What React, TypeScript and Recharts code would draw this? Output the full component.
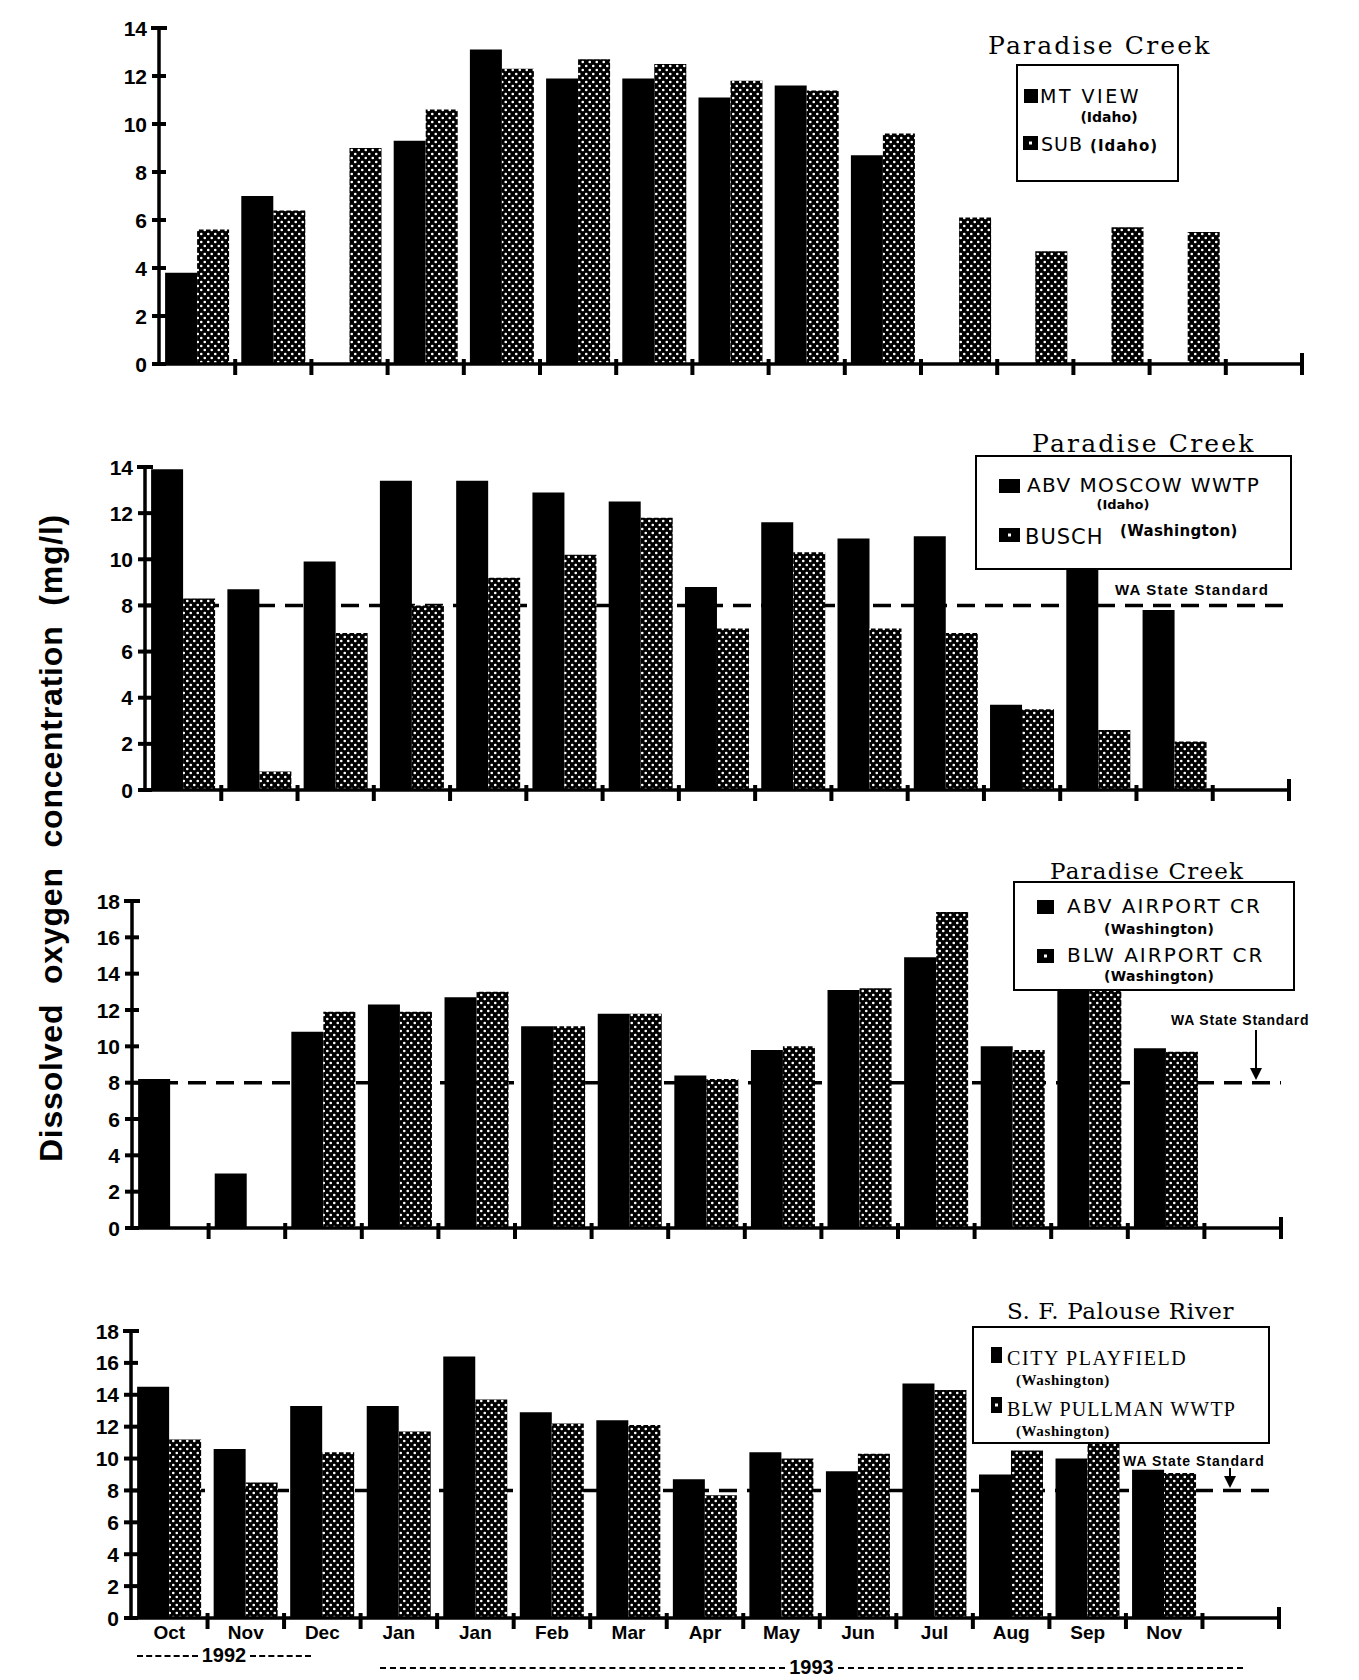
import React from 'react';
import { BarChart, Bar, XAxis, YAxis, ReferenceLine } from 'recharts';

// ---------- data ----------
const months = ['Oct', 'Nov', 'Dec', 'Jan', 'Jan', 'Feb', 'Mar', 'Apr', 'May', 'Jun', 'Jul', 'Aug', 'Sep', 'Nov', ''];

// Panel 1: Paradise Creek (Idaho)
const mtView = [3.8, 7.0, null, 9.3, 13.1, 11.9, 11.9, 11.1, 11.6, 8.7, null, null, null, null, null];
const sub = [5.6, 6.4, 9.0, 10.6, 12.3, 12.7, 12.5, 11.8, 11.4, 9.6, 6.1, 4.7, 5.7, 5.5, null];

// Panel 2: Paradise Creek
const abvMoscow = [13.9, 8.7, 9.9, 13.4, 13.4, 12.9, 12.5, 8.8, 11.6, 10.9, 11.0, 3.7, 10.2, 7.8, null];
const busch = [8.3, 0.8, 6.8, 8.0, 9.2, 10.2, 11.8, 7.0, 10.3, 7.0, 6.8, 3.5, 2.6, 2.1, null];

// Panel 3: Paradise Creek (Washington)
const abvAirport = [8.2, 3.0, 10.8, 12.3, 12.7, 11.1, 11.8, 8.4, 9.8, 13.1, 14.9, 10.0, 13.3, 9.9, null];
const blwAirport = [null, null, 11.9, 11.9, 13.0, 11.1, 11.8, 8.2, 10.0, 13.2, 17.4, 9.8, 13.6, 9.7, null];

// Panel 4: S. F. Palouse River
const cityPlayfield = [14.5, 10.6, 13.3, 13.3, 16.4, 12.9, 12.4, 8.7, 10.4, 9.2, 14.7, 9.0, 10.0, 9.3, null];
const blwPullman = [11.2, 8.5, 10.4, 11.7, 13.7, 12.2, 12.1, 7.7, 10.0, 10.3, 14.3, 10.5, 11.1, 9.1, null];

const ticks14 = [0, 2, 4, 6, 8, 10, 12, 14];
const ticks18 = [0, 2, 4, 6, 8, 10, 12, 14, 16, 18];
const waStandard = 8;

// ---------- layout ----------
const W = 1359;
const TOPPAD = 16;
const NUM_FONT = "'Liberation Sans Narrow', 'Liberation Sans', Arial, sans-serif";

type PanelCfg = {
  left: number; right: number; yTop: number; y0: number; yMax: number;
  ticks: number[]; a: (number | null)[]; b: (number | null)[]; ref: boolean; labels: boolean;
};

const panels: PanelCfg[] = [
  { left: 159, right: 1302, yTop: 28, y0: 364, yMax: 14, ticks: ticks14, a: mtView, b: sub, ref: false, labels: false },
  { left: 145, right: 1289, yTop: 467, y0: 790, yMax: 14, ticks: ticks14, a: abvMoscow, b: busch, ref: true, labels: false },
  { left: 132, right: 1281, yTop: 901, y0: 1228, yMax: 18, ticks: ticks18, a: abvAirport, b: blwAirport, ref: true, labels: false },
  { left: 131, right: 1279, yTop: 1331, y0: 1618, yMax: 18, ticks: ticks18, a: cityPlayfield, b: blwPullman, ref: true, labels: true },
];

function PanelChart({ p }: { p: PanelCfg }) {
  const svgTop = p.yTop - TOPPAD;
  const xAxisH = p.labels ? 40 : 24;
  const H = p.y0 - svgTop + xAxisH + 4;
  const slot = (p.right - p.left) / months.length;
  const y0local = p.y0 - svgTop;
  const data = months.map((m, i) => ({ i, a: p.a[i], b: p.b[i] }));
  const margin = { top: TOPPAD, right: W - p.right, bottom: 4, left: p.left - 60 };

  const renderYTick = (props: any) => {
    const { y, payload } = props;
    const top = payload.value === p.yMax;
    return (
      <g>
        <line x1={p.left - (top ? 8 : 7)} x2={p.left + (top ? 8 : 7)} y1={y} y2={y} stroke="#000" strokeWidth={4} />
        <text x={p.left - 12} y={y} dy="0.36em" textAnchor="end" fontFamily={NUM_FONT} fontWeight="bold" fontSize={21} fill="#000">
          {payload.value}
        </text>
      </g>
    );
  };

  const renderXTick = (props: any) => {
    const { x, payload } = props;
    const i = props.index !== undefined ? props.index : payload.index;
    const bx = x + slot / 2;
    const last = i === months.length - 1;
    return (
      <g>
        <line x1={bx} x2={bx} y1={y0local - (last ? 11 : 5)} y2={y0local + 11} stroke="#000" strokeWidth={4} />
        {p.labels && months[i] ? (
          <text x={x} y={y0local + 21} textAnchor="middle" fontFamily={NUM_FONT} fontWeight="bold" fontSize={19} fill="#000">
            {months[i]}
          </text>
        ) : null}
      </g>
    );
  };

  return (
    <>
      {p.ref ? (
        <div style={{ position: 'absolute', left: 0, top: svgTop }}>
          <BarChart width={W} height={H} data={data} margin={margin} barCategoryGap="8%" barGap={0}>
            <YAxis width={60} type="number" domain={[0, p.yMax]} ticks={p.ticks} allowDataOverflow tick={false} tickLine={false} axisLine={false} />
            <XAxis dataKey="i" type="category" height={xAxisH} tick={false} tickLine={false} axisLine={false} />
            <Bar dataKey="a" fill="transparent" isAnimationActive={false} />
            <ReferenceLine y={waStandard} stroke="#000" strokeWidth={3.5} strokeDasharray="18 10" ifOverflow="extendDomain" />
          </BarChart>
        </div>
      ) : null}
      <div style={{ position: 'absolute', left: 0, top: svgTop }}>
        <BarChart width={W} height={H} data={data} margin={margin} barCategoryGap="8%" barGap={0}>
          <YAxis
            width={60}
            type="number"
            domain={[0, p.yMax]}
            ticks={p.ticks}
            interval={0}
            allowDataOverflow
            tickLine={false}
            axisLine={{ stroke: '#000', strokeWidth: 3.5 }}
            tick={renderYTick}
          />
          <XAxis
            dataKey="i"
            type="category"
            height={xAxisH}
            interval={0}
            tickLine={false}
            axisLine={{ stroke: '#000', strokeWidth: 3.5 }}
            tick={renderXTick}
          />
          <Bar dataKey="a" fill="#000" isAnimationActive={false} />
          <Bar dataKey="b" fill="url(#dots)" isAnimationActive={false} />
        </BarChart>
      </div>
    </>
  );
}

const T = ({ left, cy, size, children, family, weight, ls, center }: any) => (
  <div
    style={{
      position: 'absolute',
      left: center ? left - 200 : left,
      width: center ? 400 : undefined,
      textAlign: center ? 'center' : 'left',
      top: cy,
      transform: 'translateY(-50%)',
      fontSize: size,
      fontFamily: family || "'DejaVu Sans', sans-serif",
      fontWeight: weight || 'normal',
      letterSpacing: ls || 0,
      whiteSpace: 'nowrap',
      lineHeight: 1,
      color: '#000',
    }}
  >
    {children}
  </div>
);

const Box = ({ left, top, width, height }: any) => (
  <div
    style={{
      position: 'absolute', left, top, width, height, boxSizing: 'border-box',
      border: '2.5px solid #000', background: '#fff',
    }}
  />
);

const Swatch = ({ left, top, w, h, dotted }: any) => (
  <svg style={{ position: 'absolute', left, top }} width={w} height={h}>
    <rect width={w} height={h} fill="#000" />
    {dotted ? <rect x={w / 2 - 1.5} y={h / 2 - 1.5} width={3} height={3} fill="#fff" /> : null}
  </svg>
);

const Arrow = ({ x, y1, y2 }: any) => (
  <svg style={{ position: 'absolute', left: x - 8, top: y1 }} width={16} height={y2 - y1}>
    <line x1={8} x2={8} y1={0} y2={y2 - y1 - 8} stroke="#000" strokeWidth={2} />
    <polygon points={`2,${y2 - y1 - 12} 14,${y2 - y1 - 12} 8,${y2 - y1}`} fill="#000" />
  </svg>
);

const SERIF = "'DejaVu Serif', serif";
const TIMES = "'Liberation Serif', serif";
const BOLDSANS = "'Liberation Sans', Arial, sans-serif";

export default function App() {
  return (
    <div style={{ position: 'absolute', left: 0, top: 0, width: W, height: 1680, background: '#fff', overflow: 'hidden' }}>
      <svg width={0} height={0} style={{ position: 'absolute' }}>
        <defs>
          <pattern id="dots" width={7} height={8} patternUnits="userSpaceOnUse">
            <rect width={7} height={8} fill="#000" />
            <circle cx={1.75} cy={2} r={1.3} fill="#fff" />
            <circle cx={5.25} cy={6} r={1.3} fill="#fff" />
          </pattern>
        </defs>
      </svg>

      {panels.map((p, k) => (
        <PanelChart key={k} p={p} />
      ))}

      {/* y axis title */}
      <div
        style={{
          position: 'absolute', left: 51 - 400, top: 838 - 20, width: 800, height: 40,
          lineHeight: '40px', textAlign: 'center', transform: 'rotate(-90deg)',
          fontFamily: BOLDSANS, fontWeight: 'bold', fontSize: 32, letterSpacing: 0.8, wordSpacing: 10,
        }}
      >
        Dissolved oxygen concentration (mg/l)
      </div>

      {/* Panel 1 */}
      <T left={988} cy={45} size={25} family={SERIF} ls={2.2}>Paradise Creek</T>
      <Box left={1016} top={64} width={163} height={118} />
      <Swatch left={1024} top={89} w={14} h={14} />
      <T left={1040} cy={96} size={19} ls={2.5}>MT VIEW</T>
      <T left={1109} cy={117} size={14} weight="bold" center>(Idaho)</T>
      <Swatch left={1023} top={136} w={15} h={14} dotted />
      <T left={1041} cy={144} size={19} ls={1}>SUB <span style={{ fontSize: 15, fontWeight: 'bold' }}>(Idaho)</span></T>

      {/* Panel 2 */}
      <T left={1032} cy={443} size={25} family={SERIF} ls={2.2}>Paradise Creek</T>
      <Box left={975} top={455} width={317} height={115} />
      <Swatch left={999} top={479} w={21} h={14} />
      <T left={1027} cy={485} size={20} ls={1.4}>ABV MOSCOW WWTP</T>
      <T left={1123} cy={504} size={13} weight="bold" center>(Idaho)</T>
      <Swatch left={999} top={528} w={21} h={14} dotted />
      <T left={1025} cy={537} size={21} ls={1}>BUSCH</T>
      <T left={1120} cy={531} size={15} weight="bold" ls={0.3}>(Washington)</T>
      <T left={1115} cy={589} size={15} weight="bold" family={BOLDSANS} ls={1.2}>WA State Standard</T>

      {/* Panel 3 */}
      <T left={1050} cy={871} size={23} family={SERIF} ls={1.2}>Paradise Creek</T>
      <Box left={1013} top={881} width={282} height={110} />
      <Swatch left={1037} top={900} w={17} h={14} />
      <T left={1067} cy={906} size={20} ls={2}>ABV AIRPORT CR</T>
      <T left={1104} cy={929} size={14} weight="bold" ls={0.3}>(Washington)</T>
      <Swatch left={1037} top={949} w={17} h={14} dotted />
      <T left={1067} cy={955} size={20} ls={2}>BLW AIRPORT CR</T>
      <T left={1104} cy={976} size={14} weight="bold" ls={0.3}>(Washington)</T>
      <T left={1171} cy={1020} size={14} weight="bold" family={BOLDSANS} ls={0.8}>WA State Standard</T>
      <Arrow x={1256} y1={1030} y2={1080} />

      {/* Panel 4 */}
      <T left={1007} cy={1311} size={23} family={SERIF} ls={0.6}>S. F. Palouse River</T>
      <Box left={972} top={1326} width={298} height={118} />
      <Swatch left={991} top={1347} w={11} h={16} />
      <T left={1007} cy={1358} size={20} family={TIMES} ls={1.6}>CITY PLAYFIELD</T>
      <T left={1016} cy={1380} size={15} weight="bold" family={TIMES} ls={0.6}>(Washington)</T>
      <Swatch left={991} top={1397} w={11} h={16} dotted />
      <T left={1007} cy={1409} size={20} family={TIMES} ls={1.2}>BLW PULLMAN WWTP</T>
      <T left={1016} cy={1431} size={15} weight="bold" family={TIMES} ls={0.6}>(Washington)</T>
      <T left={1123} cy={1461} size={14} weight="bold" family={BOLDSANS} ls={1}>WA State Standard</T>
      <Arrow x={1230} y1={1468} y2={1488} />

      {/* year labels */}
      <div style={{ position: 'absolute', left: 137, top: 1644, width: 174, display: 'flex', alignItems: 'center', fontFamily: NUM_FONT, fontWeight: 'bold', fontSize: 20 }}>
        <div style={{ flex: 1, borderTop: '2px dashed #000' }} />
        <span style={{ padding: '0 4px' }}>1992</span>
        <div style={{ flex: 1, borderTop: '2px dashed #000' }} />
      </div>
      <div style={{ position: 'absolute', left: 380, top: 1656, width: 863, display: 'flex', alignItems: 'center', fontFamily: NUM_FONT, fontWeight: 'bold', fontSize: 20 }}>
        <div style={{ flex: 1, borderTop: '2px dashed #000' }} />
        <span style={{ padding: '0 4px' }}>1993</span>
        <div style={{ flex: 1, borderTop: '2px dashed #000' }} />
      </div>
    </div>
  );
}
